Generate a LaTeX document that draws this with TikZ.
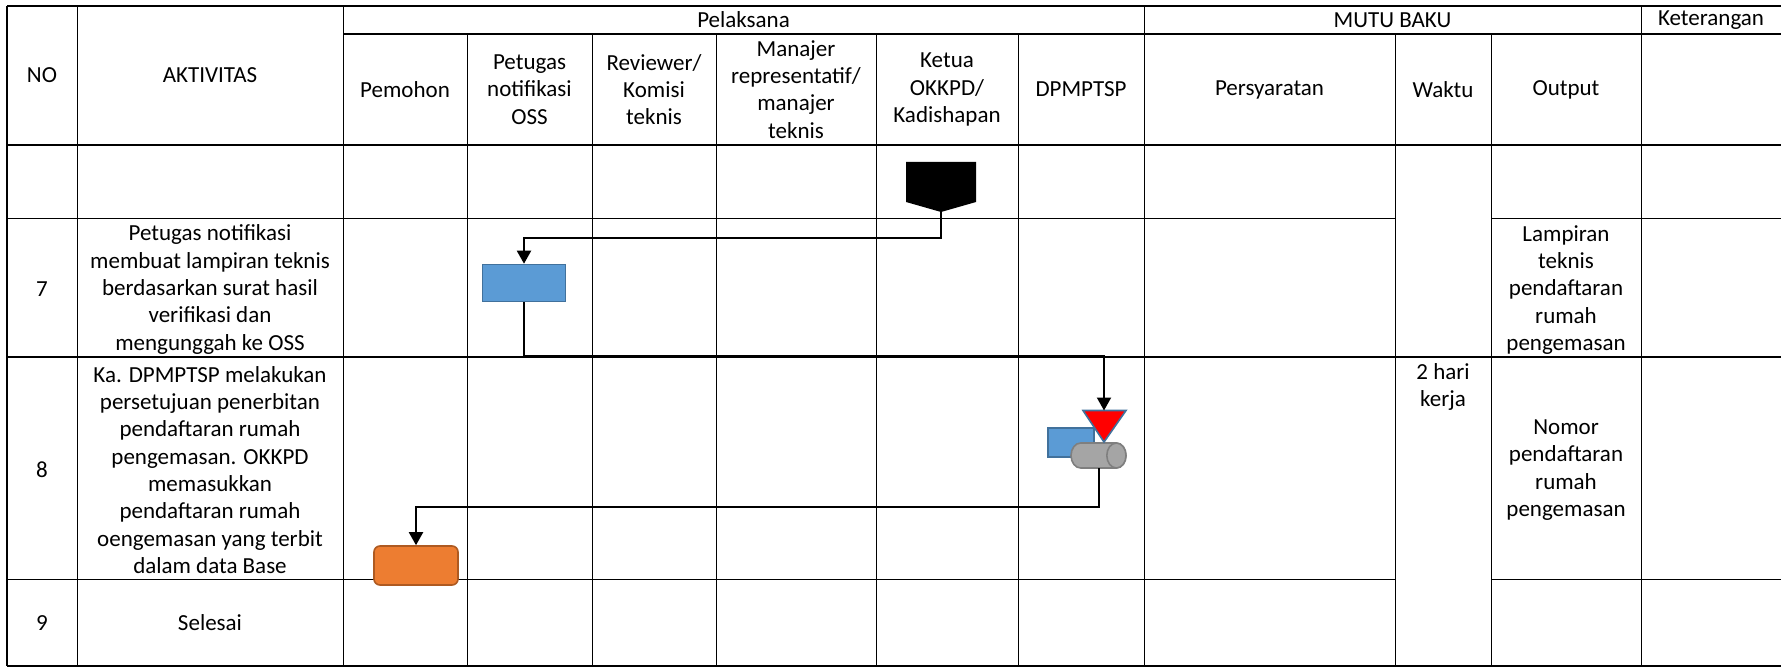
\documentclass[tikz,border=0pt]{standalone}
\usepackage{fontspec}
\setmainfont{Carlito}
\usepackage{tikz}
\usetikzlibrary{arrows.meta}

\definecolor{biru}{HTML}{5B9BD5}
\definecolor{biruGaris}{HTML}{41719C}
\definecolor{oranye}{HTML}{ED7D31}
\definecolor{oranyeGaris}{HTML}{AE5A21}
\definecolor{abu}{HTML}{A5A5A5}
\definecolor{abuGaris}{HTML}{7F7F7F}

\tikzset{
  teks/.style={inner sep=0pt, align=center, font=\fontsize{11.5}{13.65}\selectfont},
  tipis/.style={line width=0.5pt},
  tebal/.style={line width=1.1pt},
  alur/.style={line width=1pt, -{Triangle[length=6.5pt,width=7pt]}},
  proses/.style={draw=biruGaris, fill=biru, line width=0.8pt, inner sep=0pt},
  akhir/.style={draw=oranyeGaris, fill=oranye, line width=0.8pt, inner sep=0pt, rounded corners=3pt},
  basisdata/.style={draw=abuGaris, fill=abu, line width=0.8pt}
}

\begin{document}
\begin{tikzpicture}[x=0.5pt, y=-0.5pt]
\useasboundingbox (0,0) rectangle (1781,668);

% garis tabel
\draw[tebal] (7,5.7) -- (1781,5.7);
\draw[line width=0.8pt] (343,34) -- (1781,34);
\draw[tebal] (7,145) -- (1781,145);
\draw[tipis] (7,219) -- (1395,219);
\draw[tipis] (1491,219) -- (1781,219);
\draw[tebal] (7,357) -- (1781,357);
\draw[tipis] (7,579) -- (1395,579);
\draw[tipis] (1491,579) -- (1781,579);
\draw[tebal] (7,666) -- (1781,666);
\draw[tebal] (7,5.7) -- (7,666);
\draw[tipis] (77,5.7) -- (77,666);
\draw[tipis] (343,5.7) -- (343,666);
\draw[tipis] (467,34) -- (467,666);
\draw[tipis] (592,34) -- (592,666);
\draw[tipis] (716,34) -- (716,666);
\draw[tipis] (876,34) -- (876,666);
\draw[tipis] (1018,34) -- (1018,666);
\draw[tipis] (1144,5.7) -- (1144,666);
\draw[tipis] (1395,34) -- (1395,666);
\draw[tipis] (1491,34) -- (1491,666);
\draw[tipis] (1641,5.7) -- (1641,666);

% kepala tabel
\node[teks] (hNo) at (42,75) {NO};
\node[teks] (hAktivitas) at (210,75) {AKTIVITAS};
\node[teks] (hPelaksana) at (743.5,20) {Pelaksana};
\node[teks] (hMutu) at (1392.5,20) {MUTU BAKU};
\node[teks] (hKet) at (1711,20) {Keterangan};
\node[teks] (hPemohon) at (405,89.5) {Pemohon};
\node[teks] (hPetugas) at (529.5,89.5) {Petugas\\notifikasi\\OSS};
\node[teks] (hReviewer) at (654,89.5) {Reviewer/\\Komisi\\teknis};
\node[teks] (hManajer) at (796,89.5) {Manajer\\representatif/\\manajer\\teknis};
\node[teks] (hKetua) at (947,89.5) {Ketua\\OKKPD/\\Kadishapan};
\node[teks] (hDpmptsp) at (1081,89.5) {DPMPTSP};
\node[teks] (hSyarat) at (1269.5,89.5) {Persyaratan};
\node[teks] (hWaktu) at (1443,89.5) {Waktu};
\node[teks] (hOutput) at (1566,89.5) {Output};

% isi baris
\node[teks] (no7) at (42,289.5) {7};
\node[teks] (akt7) at (210,289.5) {Petugas notifikasi\\membuat lampiran teknis\\berdasarkan surat hasil\\verifikasi dan\\mengunggah ke OSS};
\node[teks] (out7) at (1566,290) {Lampiran\\teknis\\pendaftaran\\rumah\\pengemasan};
\node[teks] (no8) at (42,470) {8};
\node[teks] (akt8) at (210,470) {Ka. DPMPTSP melakukan\\persetujuan penerbitan\\pendaftaran rumah\\pengemasan. OKKPD\\memasukkan\\pendaftaran rumah\\oengemasan yang terbit\\dalam data Base};
\node[teks] (waktu8) at (1443,387) {2 hari\\kerja};
\node[teks] (out8) at (1566,470) {Nomor\\pendaftaran\\rumah\\pengemasan};
\node[teks] (no9) at (42,623) {9};
\node[teks] (akt9) at (210,623) {Selesai};

% simbol
\fill (906,162) -- (976,162) -- (976,202) -- (941,212) -- (906,202) -- cycle;
\coordinate (okp) at (941,212);
\node[proses, minimum width=41.5pt, minimum height=18.5pt] (p1) at (524,283) {};
\node[proses, minimum width=23pt, minimum height=14.5pt] (p2) at (1071,442.5) {};
\filldraw[basisdata] (1080.6,443) -- (1116.4,443)
  arc[start angle=90, end angle=-90, x radius=4.8pt, y radius=6.25pt]
  -- (1080.6,468)
  arc[start angle=270, end angle=90, x radius=4.8pt, y radius=6.25pt] -- cycle;
\filldraw[basisdata] (1116.4,455.5) ellipse[x radius=4.8pt, y radius=6.25pt];
\coordinate (db) at (1098.5,468);
\filldraw[fill=red, draw=biruGaris, line width=0.8pt] (1083,410.5) -- (1126,410.5) -- (1104,442) -- cycle;
\coordinate (segi) at (1104,410.5);
\node[akhir, minimum width=42pt, minimum height=19.5pt] (s1) at (416,565.5) {};

% alur
\draw[alur] (okp) -- ++(0,26) -| (p1.north);
\draw[alur] (p1.south) -- ++(0,53.5) -| (segi);
\draw[alur] (db) -- ++(0,38.7) -| (s1.north);
\end{tikzpicture}
\end{document}
